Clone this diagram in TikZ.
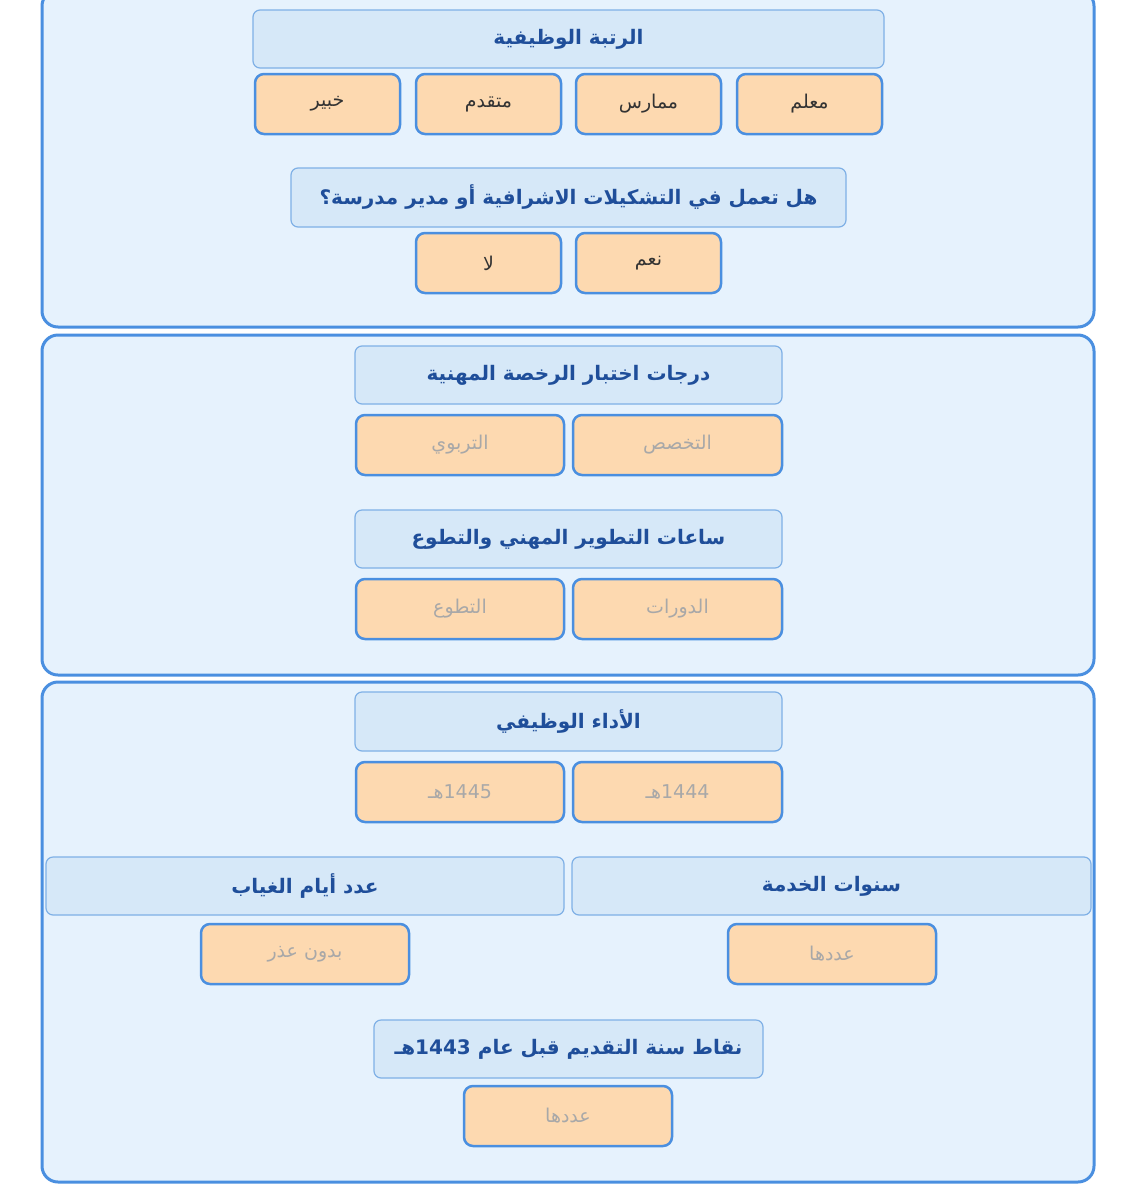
\documentclass[tikz,border=0pt]{standalone}
\usepackage{fontspec}
\newfontfamily\arabicfont[Script=Arabic]{DejaVu Sans}
\TeXXeTstate=1
\definecolor{panelfill}{HTML}{E6F2FD}
\definecolor{panelline}{HTML}{4A8FE0}
\definecolor{headfill}{HTML}{D6E8F8}
\definecolor{headline}{HTML}{7FB0E6}
\definecolor{headtext}{HTML}{1F4E9A}
\definecolor{optfill}{HTML}{FDD9B0}
\definecolor{opttext}{HTML}{333333}
\definecolor{greytext}{HTML}{A8A8A8}
\newcommand{\ar}[1]{{\arabicfont\beginR #1\endR}}
\tikzset{
  panel/.style={draw=panelline,fill=panelfill,line width=3pt,rounded corners=16pt},
  headbox/.style={draw=headline,fill=headfill,line width=1.2pt,rounded corners=7pt},
  optbox/.style={draw=panelline,fill=optfill,line width=2.5pt,rounded corners=9pt},
  headlbl/.style={font=\fontsize{20}{24}\selectfont\bfseries,text=headtext},
  optlbl/.style={font=\fontsize{19}{23}\selectfont,text=opttext},
  greylbl/.style={font=\fontsize{19}{23}\selectfont,text=greytext}
}
\newcommand{\HB}[6]{% name x1 y1 x2 y2 text
  \draw[headbox] (#2,#3) rectangle (#4,#5);
  \node[headlbl] (#1) at ({(#2+#4)/2},{(#3+#5)/2}) {\ar{#6}};}
\newcommand{\OB}[7]{% name x1 y1 x2 y2 style text
  \draw[optbox] (#2,#3) rectangle (#4,#5);
  \node[#6] (#1) at ({(#2+#4)/2},{(#3+#5)/2}) {\ar{#7}};}
\begin{document}
\begin{tikzpicture}[x=1pt,y=-1pt]
\useasboundingbox[fill=white] (0,0) rectangle (1137,1200);
% panels
\draw[panel] (42,-10) rectangle (1094,327);
\draw[panel] (42,335) rectangle (1094,675);
\draw[panel] (42,682) rectangle (1094,1182);
% panel 1
\HB{h1}{253}{10}{884}{68}{الرتبة الوظيفية}
\OB{o1}{255}{74}{400}{134}{optlbl}{خبير}
\OB{o2}{416}{74}{561}{134}{optlbl}{متقدم}
\OB{o3}{576}{74}{721}{134}{optlbl}{ممارس}
\OB{o4}{737}{74}{882}{134}{optlbl}{معلم}
\HB{h2}{291}{168}{846}{227}{هل تعمل في التشكيلات الاشرافية أو مدير مدرسة؟}
\OB{o5}{416}{233}{561}{293}{optlbl}{لا}
\OB{o6}{576}{233}{721}{293}{optlbl}{نعم}
% panel 2
\HB{h3}{355}{346}{782}{404}{درجات اختبار الرخصة المهنية}
\OB{o7}{356}{415}{564}{475}{greylbl}{التربوي}
\OB{o8}{573}{415}{782}{475}{greylbl}{التخصص}
\HB{h4}{355}{510}{782}{568}{ساعات التطوير المهني والتطوع}
\OB{o9}{356}{579}{564}{639}{greylbl}{التطوع}
\OB{o10}{573}{579}{782}{639}{greylbl}{الدورات}
% panel 3
\HB{h5}{355}{692}{782}{751}{الأداء الوظيفي}
\OB{o11}{356}{762}{564}{822}{greylbl}{\beginL 1445\endL هـ}
\OB{o12}{573}{762}{782}{822}{greylbl}{\beginL 1444\endL هـ}
\HB{h6}{46}{857}{564}{915}{عدد أيام الغياب}
\HB{h7}{572}{857}{1091}{915}{سنوات الخدمة}
\OB{o13}{201}{924}{409}{984}{greylbl}{بدون عذر}
\OB{o14}{728}{924}{936}{984}{greylbl}{عددها}
\HB{h8}{374}{1020}{763}{1078}{نقاط سنة التقديم قبل عام \beginL 1443\endL هـ}
\OB{o15}{464}{1086}{672}{1146}{greylbl}{عددها}
\end{tikzpicture}
\end{document}
